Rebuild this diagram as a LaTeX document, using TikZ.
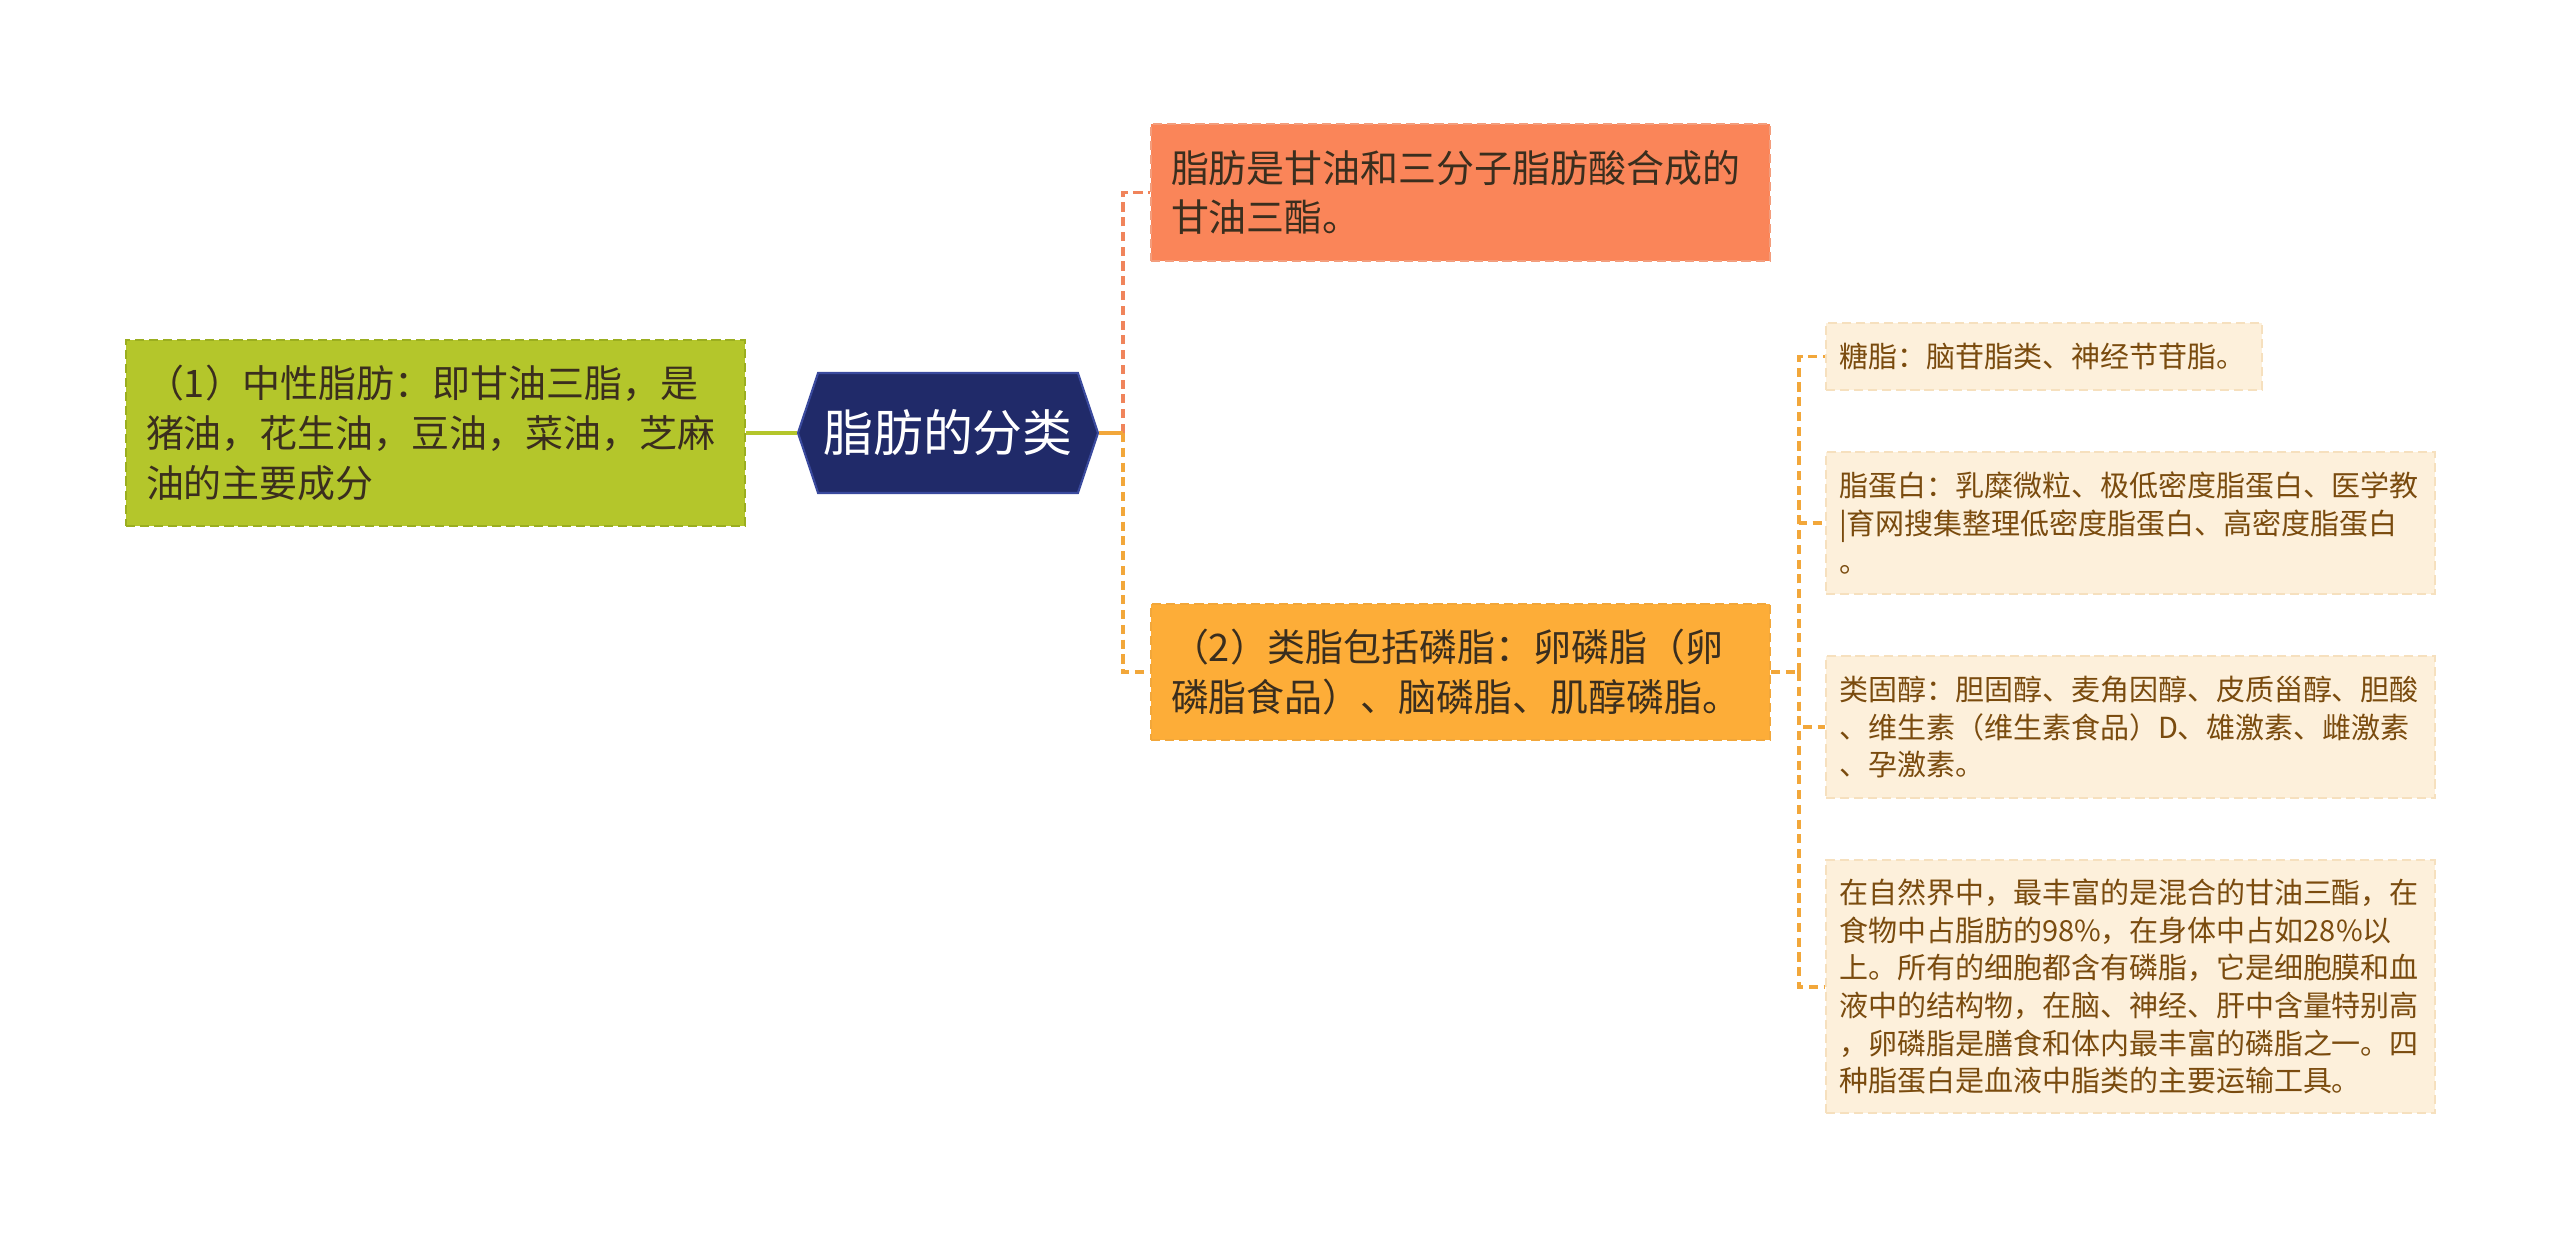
\documentclass[tikz,border=0pt]{standalone}
\usepackage{fontspec}
\usepackage{xcolor}
\usepackage{tikz}
\usetikzlibrary{positioning,shapes.symbols}
\newfontfamily\cjk{Noto Sans CJK SC}
\definecolor{fatNavy}{HTML}{202A69}
\definecolor{fatNavyLine}{HTML}{3A4A9E}
\definecolor{fatGreen}{HTML}{B4C62B}
\definecolor{fatGreenLine}{HTML}{9BAE1F}
\definecolor{fatCoral}{HTML}{FA8559}
\definecolor{fatCoralLine}{HTML}{F0845B}
\definecolor{fatOrange}{HTML}{FDAD38}
\definecolor{fatOrangeLine}{HTML}{F2A73A}
\definecolor{fatCream}{HTML}{FDF0DB}
\definecolor{fatCreamLine}{HTML}{F6E0BE}
\definecolor{fatBrown}{HTML}{7A4B0E}
\definecolor{fatInk}{HTML}{3A2E1E}
\tikzset{
  hexroot/.style={
    signal,
    signal to=west and east,
    signal pointer angle=143,
    draw=fatNavyLine,
    line width=0.6pt,
    fill=fatNavy,
    text=white,
    font=\cjk\fontsize{14.2}{17}\selectfont,
    minimum width=3.0cm,
    minimum height=1.2cm,
    inner sep=0pt
  },
  bigbox/.style={
    rectangle,
    dashed,
    dash pattern=on 2.6pt off 1.4pt,
    line width=0.6pt,
    align=left,
    text=fatInk,
    font=\cjk\fontsize{10.8}{14.2}\selectfont,
    inner xsep=0.2cm,
    inner ysep=0pt,
    minimum width=6.19cm,
    text width=5.79cm
  },
  neutralbox/.style={bigbox, draw=fatGreenLine, fill=fatGreen, minimum height=1.86cm},
  fatbox/.style={bigbox, draw=fatCoralLine!80!white, fill=fatCoral, minimum height=1.37cm},
  lipoidbox/.style={bigbox, draw=fatOrangeLine, fill=fatOrange, minimum height=1.36cm},
  leaf/.style={
    rectangle,
    dashed,
    dash pattern=on 2.6pt off 1.4pt,
    line width=0.6pt,
    draw=fatCreamLine,
    fill=fatCream,
    align=left,
    text=fatBrown,
    font=\cjk\fontsize{8.25}{10.7}\selectfont,
    inner xsep=0.13cm,
    inner ysep=0pt,
    minimum width=6.09cm,
    text width=5.83cm
  },
  stub/.style={line width=1.1pt},
  link/.style={line width=1.1pt, dash pattern=on 2.6pt off 1.6pt}
}

\begin{document}
\begin{tikzpicture}[node distance=0.6cm]
  \useasboundingbox (0,0) rectangle (25.6,12.39);

  \node[hexroot] (root) at (9.48,8.06) {脂肪的分类};
  \node[neutralbox] (neutral) at (4.355,8.06) {（1）中性脂肪：即甘油三脂，是\\猪油，花生油，豆油，菜油，芝麻\\油的主要成分};
  \node[fatbox] (fat) at (14.605,10.465) {脂肪是甘油和三分子脂肪酸合成的\\甘油三酯。};
  \node[lipoidbox] (lipoid) at (14.605,5.67) {（2）类脂包括磷脂：卵磷脂（卵\\磷脂食品）、脑磷脂、肌醇磷脂。};

  \node[leaf, minimum width=4.36cm, text width=4.10cm, minimum height=0.67cm, anchor=west] (glyco) at (18.25,8.825) {糖脂：脑苷脂类、神经节苷脂。};
  \node[leaf, minimum height=1.42cm, below=of glyco.south west, anchor=north west] (lipoprot) {脂蛋白：乳糜微粒、极低密度脂蛋白、医学教\\|育网搜集整理低密度脂蛋白、高密度脂蛋白\\。};
  \node[leaf, minimum height=1.42cm, below=of lipoprot.south west, anchor=north west] (sterol) {类固醇：胆固醇、麦角因醇、皮质甾醇、胆酸\\、维生素（维生素食品）D、雄激素、雌激素\\、孕激素。};
  \node[leaf, minimum height=2.53cm, below=of sterol.south west, anchor=north west] (nature) {在自然界中，最丰富的是混合的甘油三酯，在\\食物中占脂肪的98\%，在身体中占如28\%以\\上。所有的细胞都含有磷脂，它是细胞膜和血\\液中的结构物，在脑、神经、肝中含量特别高\\，卵磷脂是膳食和体内最丰富的磷脂之一。四\\种脂蛋白是血液中脂类的主要运输工具。};

  \coordinate (hub) at (11.23,8.06);
  \coordinate (fork) at (17.99,5.67);

  % root level
  \draw[stub, fatGreen] (root.west) -- (neutral.east);
  \draw[link, fatCoralLine] (hub) |- (fat.west);
  \draw[stub, fatOrangeLine] (root.east) -- (hub);
  \draw[link, fatOrangeLine] (hub) |- (lipoid.west);

  % lipoid branches
  \draw[link, fatOrangeLine] (lipoid.east) -- (fork);
  \draw[link, fatOrangeLine] (fork) |- (glyco.west);
  \draw[link, fatOrangeLine] (fork) |- (lipoprot.west);
  \draw[link, fatOrangeLine] (fork) |- (sterol.west);
  \draw[link, fatOrangeLine] (fork) |- (nature.west);
\end{tikzpicture}
\end{document}
